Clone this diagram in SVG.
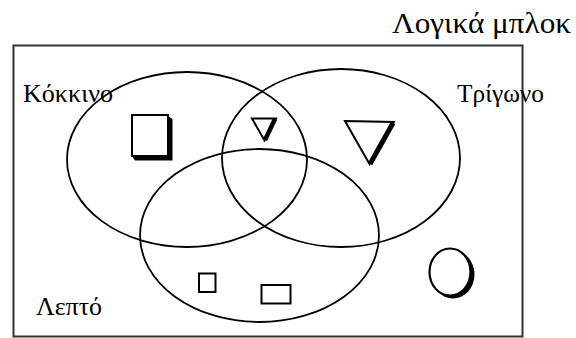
<svg xmlns="http://www.w3.org/2000/svg" width="576" height="338" viewBox="0 0 576 338">
<style>
text { font-family: "Liberation Serif", "Times New Roman", serif; fill: #000; }
.lbl { font-size: 25px; }
.title { font-size: 30px; }
.set { fill: none; stroke: #000; stroke-width: 1.8; }
.shape { fill: #fff; stroke: #000; stroke-width: 2; }
</style>
<rect width="576" height="338" fill="#fff"/>
<g id="frame">
<rect x="13.5" y="45.5" width="509" height="291" fill="none" stroke="#333" stroke-width="2"/>
</g>
<text class="title" x="392" y="33" textLength="179" lengthAdjust="spacingAndGlyphs">Λογικά μπλοκ</text>
<g id="connectors"/>
<g id="set-red">
<ellipse class="set" cx="187" cy="159.5" rx="120" ry="87.5"/>
<text class="lbl" x="23" y="102" textLength="90" lengthAdjust="spacingAndGlyphs">Κόκκινο</text>
</g>
<g id="set-triangle">
<ellipse class="set" cx="341" cy="158" rx="119" ry="89"/>
<text class="lbl" x="457" y="102" textLength="87" lengthAdjust="spacingAndGlyphs">Τρίγωνο</text>
</g>
<g id="set-thin">
<ellipse class="set" cx="259.5" cy="235.5" rx="119.5" ry="86.5"/>
<text class="lbl" x="36" y="315" textLength="66" lengthAdjust="spacingAndGlyphs">Λεπτό</text>
</g>
<g id="red-square">
<polygon points="168,116 172.5,119 172.5,160.5 135,160.5 132,156 168,156" fill="#000"/>
<rect class="shape" x="132" y="115" width="36" height="41"/>
</g>
<g id="small-triangle">
<polygon class="shape" points="252,118.5 276,118.5 264.5,140.5"/>
<line x1="275" y1="119" x2="265" y2="140" stroke="#000" stroke-width="4.5"/>
</g>
<g id="big-triangle">
<polygon class="shape" points="345,121 394,122 369.5,164"/>
<line x1="393" y1="123" x2="370" y2="164" stroke="#000" stroke-width="5"/>
</g>
<g id="thin-square">
<rect class="shape" x="199" y="273.5" width="16.5" height="18.5"/>
</g>
<g id="thin-rectangle">
<rect class="shape" x="261.5" y="285" width="29" height="18.5"/>
</g>
<g id="circle">
<ellipse cx="453" cy="274.5" rx="21.5" ry="24" fill="#000"/>
<ellipse cx="450" cy="272" rx="20.5" ry="23.5" fill="#fff" stroke="#000" stroke-width="2.2"/>
</g>
</svg>
